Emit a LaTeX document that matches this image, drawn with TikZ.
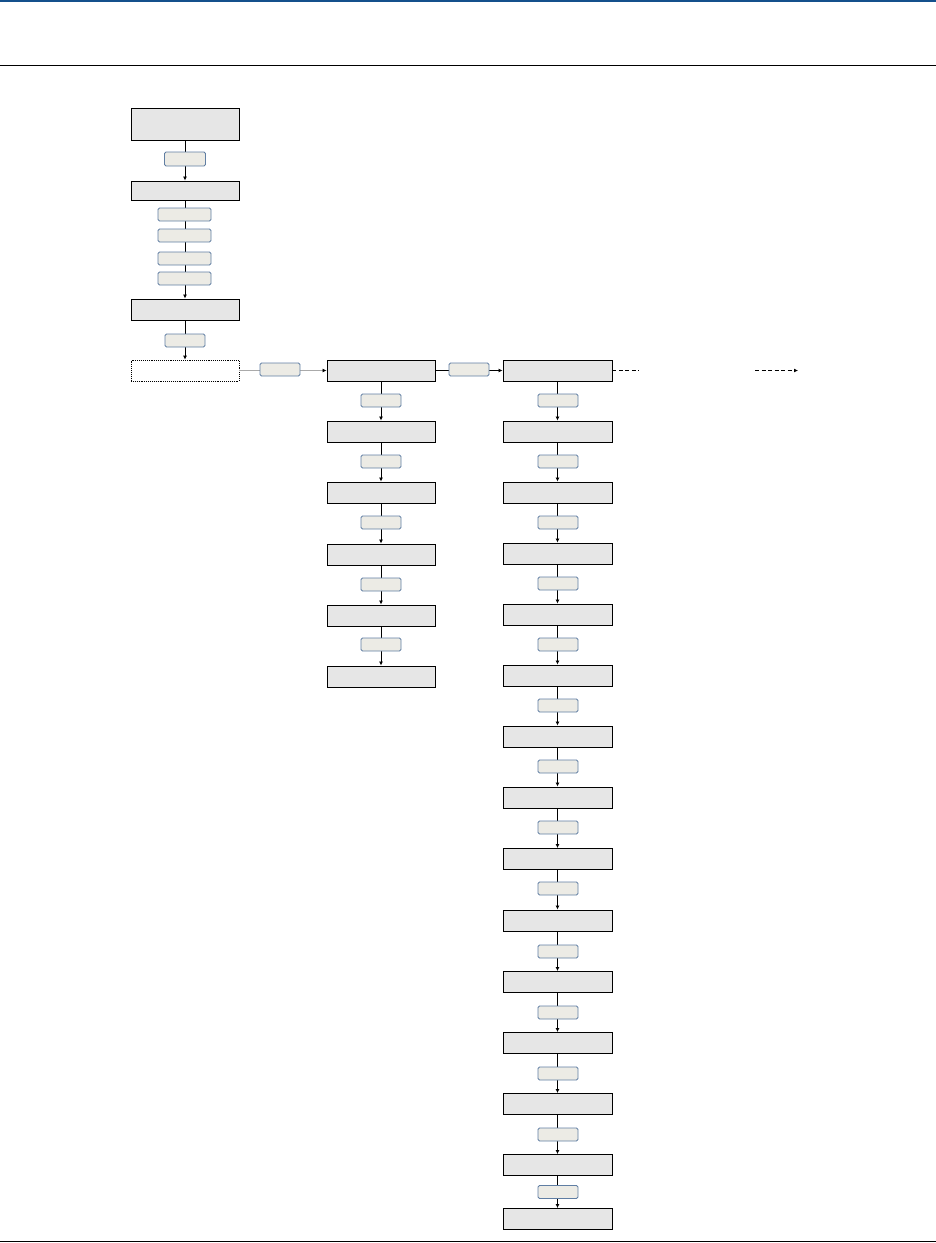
\documentclass[tikz,border=0pt]{standalone}
\usetikzlibrary{arrows.meta}
\definecolor{boxfill}{RGB}{230,230,230}
\definecolor{tagfill}{RGB}{236,235,229}
\definecolor{tagline}{RGB}{96,126,163}
\definecolor{topblue}{RGB}{20,80,140}
\definecolor{greyline}{RGB}{170,170,170}
\begin{document}
\begin{tikzpicture}[x=1pt,y=-1pt,
  stepbox/.style={draw=black,line width=0.9pt,fill=boxfill,inner sep=0pt,minimum width=108pt,minimum height=20pt},
  tag/.style={draw=tagline,line width=0.8pt,fill=tagfill,rounded corners=1.5pt,inner sep=0pt,minimum width=40pt,minimum height=13pt},
  widetag/.style={tag,minimum width=53pt},
  conn/.style={line width=0.8pt,-{Latex[length=4pt,width=4pt,color=black]}},
  plain/.style={line width=0.8pt}]
\useasboundingbox (0,0) rectangle (936,1243);
\draw[topblue,line width=1.5pt] (0,1) -- (936,1);
\draw[black,line width=0.9pt] (0,65.5) -- (936,65.5);
\draw[black,line width=0.9pt] (0,1241.5) -- (936,1241.5);

% column 1
\node[stepbox,minimum height=32pt] (a1) at (185,124) {};
\node[stepbox,minimum height=19pt] (a2) at (185,190.5) {};
\node[stepbox,minimum height=21pt] (a3) at (185,309.5) {};
\node[stepbox,minimum height=21pt,fill=white,densely dotted,line width=0.7pt] (a4) at (185,370.5) {};

% column 2
\foreach \i/\y in {1/370.5,2/431.5,3/492.5,4/554.5,5/615.5,6/676.5}
  \node[stepbox,minimum height=21pt] (b\i) at (381,\y) {};

% column 3
\foreach \i/\y in {1/370.5,2/431.5,3/492.5,4/553.5,5/614.5,6/675.5,7/736.5,8/797.5,9/859,10/920.5,11/982,12/1043,13/1104,14/1165,15/1219}
  \node[stepbox,minimum width=109pt,minimum height=21pt] (c\i) at (557.5,\y) {};

% connectors column 1
\draw[conn] (a1) -- (a2);
\draw[conn] (a2) -- (a3);
\draw[conn] (a3) -- (a4);
% horizontal connectors
\draw[conn,greyline] (a4) -- (b1);
\draw[conn] (b1) -- (c1);
\coordinate (d1) at (639,370.5);
\coordinate (d2) at (755,370.5);
\coordinate (d3) at (798,370.5);
\draw[plain,dash pattern=on 4pt off 2.5pt] (c1.east) -- (d1);
\draw[conn,dash pattern=on 4pt off 2.5pt] (d2) -- (d3);

% connectors column 2
\foreach \i/\j in {1/2,2/3,3/4,4/5,5/6}
  \draw[conn] (b\i) -- (b\j);
% connectors column 3
\foreach \i/\j in {1/2,2/3,3/4,4/5,5/6,6/7,7/8,8/9,9/10,10/11,11/12,12/13,13/14,14/15}
  \draw[conn] (c\i) -- (c\j);

% tags column 1
\node[tag,minimum width=41pt,minimum height=14pt] (t1) at (185,159) {};
\node[widetag] (t2) at (184.5,214.5) {};
\node[widetag] (t3) at (184.5,235.5) {};
\node[widetag] (t4) at (184.5,258.5) {};
\node[widetag] (t5) at (184.5,278.5) {};
\node[tag] (t6) at (185,340.5) {};
% horizontal tags
\node[tag] (h1) at (280,369.5) {};
\node[tag] (h2) at (469,369.5) {};
% tags column 2
\foreach \i/\y in {1/400.5,2/461.5,3/522.5,4/584.5,5/644.5}
  \node[tag] (u\i) at (381,\y) {};
% tags column 3
\foreach \i/\y in {1/400.5,2/461.5,3/522.5,4/583.5,5/644.5,6/705.5,7/766.5,8/827.5,9/888.5,10/951.5,11/1012.5,12/1073.5,13/1134.5,14/1192}
  \node[tag] (v\i) at (558,\y) {};
\end{tikzpicture}
\end{document}
